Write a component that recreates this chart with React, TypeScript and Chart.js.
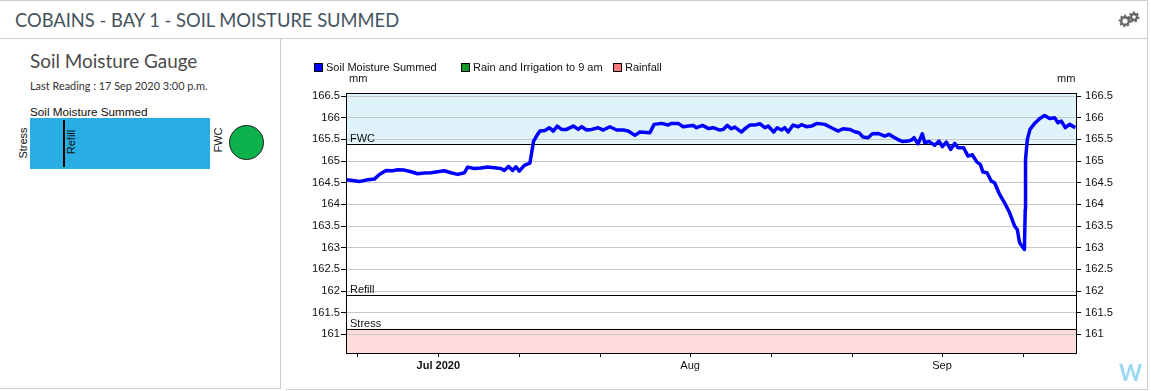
import React, { useEffect, useRef } from "react";
import { Chart, registerables } from "chart.js";

Chart.register(...registerables);

// x values are days counted from 1 Jul 2020
const moistureDays = [
  -11.35, -10.53, -9.71, -8.89, -7.87, -7.25, -6.43, -5.61, -5.0, -4.18, -3.36, -2.54, -1.72, -0.9, -0.08, 0.74, 1.56, 2.38, 3.2, 3.61, 4.43, 5.25, 6.07, 6.89, 7.71, 8.12, 8.66, 9.15, 9.56, 9.97, 10.58, 11.28, 11.49, 11.73, 12.22,
  12.51, 13.13, 13.66, 14.15, 14.64, 15.18, 15.79, 16.61, 17.23, 17.64, 18.25, 18.87, 19.69, 20.3, 21.12, 21.94, 22.76, 23.38, 24.2, 24.81, 26.04, 26.57, 27.48, 28.3, 28.7, 29.53, 30.14, 30.76, 31.37, 31.78, 32.52, 33.22, 33.83, 34.65,
  35.06, 35.55, 36.09, 36.5, 37.32, 37.73, 38.34, 38.96, 39.57, 40.19, 40.6, 41.29, 41.7, 42.24, 42.65, 43.06, 43.67, 44.29, 44.7, 45.31, 45.93, 46.62, 47.57, 48.39, 49.2, 49.82, 50.64, 51.26, 51.79, 52.28, 52.9, 53.43, 54.13, 54.95, 55.48, 56.18, 56.79,
  57.12, 57.82, 58.22, 58.55, 59.05, 59.58, 59.87, 60.4, 61.1, 61.63, 62.04, 62.53, 63.06, 63.56, 63.97, 64.66, 65.2, 65.73, 66.3, 66.71, 67.04, 67.53, 68.07, 68.47, 69.09, 69.7, 70.32, 70.94, 71.26, 71.55, 72.14, 72.24, 72.28, 72.5, 72.83, 73.4, 74.01, 74.63, 75.24, 75.86, 76.27, 76.68, 77.17, 77.7, 78.4,
];
const moistureValues = [
  164.568, 164.552, 164.529, 164.56, 164.583, 164.691, 164.783, 164.775, 164.799, 164.791, 164.752, 164.706, 164.722, 164.729, 164.752, 164.775, 164.729, 164.691, 164.729, 164.86, 164.829, 164.837, 164.86, 164.845, 164.829, 164.783, 164.876, 164.783, 164.868, 164.768, 164.899, 164.953, 165.191, 165.461, 165.615,
  165.692, 165.707, 165.769, 165.692, 165.807, 165.73, 165.73, 165.807, 165.73, 165.792, 165.715, 165.73, 165.769, 165.715, 165.792, 165.715, 165.715, 165.692, 165.592, 165.669, 165.653, 165.846, 165.869, 165.83, 165.869, 165.869, 165.792, 165.807, 165.822, 165.769, 165.822, 165.753, 165.769, 165.715,
  165.73, 165.822, 165.745, 165.784, 165.669, 165.745, 165.83, 165.83, 165.861, 165.769, 165.807, 165.669, 165.769, 165.715, 165.769, 165.669, 165.83, 165.792, 165.838, 165.792, 165.807, 165.869, 165.846, 165.769, 165.692, 165.745, 165.73, 165.676, 165.653, 165.553, 165.538, 165.63, 165.638, 165.576, 165.615, 165.538, 165.476,
  165.453, 165.461, 165.484, 165.538, 165.399, 165.63, 165.422, 165.453, 165.361, 165.461, 165.33, 165.438, 165.268, 165.407, 165.307, 165.307, 165.114, 165.145, 164.976, 164.922, 164.745, 164.729, 164.537, 164.498, 164.229, 164.036, 163.806, 163.498, 163.421, 163.113, 162.959, 163.883, 165.037, 165.499, 165.73, 165.869, 165.976, 166.053, 165.984, 166.0, 165.884, 165.923, 165.769, 165.846, 165.769,
];
const rainIrrigation: number[] = [];
const rainfall: number[] = [];

const xTickDays = [-10, 0, 10, 20, 31, 41, 51, 62, 72];
const xTickLabels = ["", "Jul 2020", "", "", "Aug", "", "", "Sep", ""];
const yTicks = [161, 161.5, 162, 162.5, 163, 163.5, 164, 164.5, 165, 165.5, 166, 166.5];

const thresholdNames = ["FWC", "Refill", "Stress"];
const thresholdValues = [165.4, 161.91, 161.13];

const legendNames = ["Soil Moisture Summed", "Rain and Irrigation to 9 am", "Rainfall"];
const legendColors = ["#0000ff", "#109a2a", "#ff7878"];

const CHART_FONT = "'Liberation Sans', Arial, sans-serif";
const UI_FONT = "Lato, 'Open Sans', sans-serif";

const bandsPlugin = {
  id: "bands",
  beforeDraw(chart: any) {
    const { ctx, chartArea: a, scales } = chart;
    const y = scales.y;
    ctx.save();
    ctx.fillStyle = "#e0f3fb";
    const fwc = y.getPixelForValue(thresholdValues[0]);
    ctx.fillRect(a.left, a.top, a.right - a.left, fwc - a.top);
    ctx.fillStyle = "#ffdcdc";
    const stress = y.getPixelForValue(thresholdValues[2]);
    ctx.fillRect(a.left, stress, a.right - a.left, a.bottom - stress);
    ctx.restore();
  },
  beforeDatasetsDraw(chart: any) {
    const { ctx, chartArea: a, scales } = chart;
    const y = scales.y;
    ctx.save();
    ctx.strokeStyle = "#000";
    ctx.lineWidth = 1;
    ctx.fillStyle = "#111";
    ctx.font = `11px ${CHART_FONT}`;
    ctx.textBaseline = "alphabetic";
    thresholdValues.forEach((v, i) => {
      const p = Math.round(y.getPixelForValue(v)) + 0.5;
      ctx.beginPath();
      ctx.moveTo(a.left, p);
      ctx.lineTo(a.right, p);
      ctx.stroke();
      ctx.fillText(thresholdNames[i], a.left + 4, p - 2.5);
    });
    ctx.restore();
  },
  afterDraw(chart: any) {
    const { ctx, chartArea: a } = chart;
    ctx.save();
    ctx.strokeStyle = "#000";
    ctx.lineWidth = 1;
    ctx.strokeRect(a.left + 0.5, a.top + 0.5, a.right - a.left, a.bottom - a.top);
    ctx.restore();
  },
};

const abs = (s: React.CSSProperties): React.CSSProperties => ({ position: "absolute", whiteSpace: "nowrap", ...s });

function Vertical({ text, x, y }: { text: string; x: number; y: number }) {
  return (
    <div style={abs({ left: x, top: y, transform: "translate(-50%,-50%) rotate(-90deg)", font: `11px ${CHART_FONT}`, color: "#111" })}>
      {text}
    </div>
  );
}

function Gear({ cx, cy, r }: { cx: number; cy: number; r: number }) {
  return (
    <>
      <circle cx={cx} cy={cy} r={r} fill="none" stroke="#666" strokeWidth={2.4} />
      <circle cx={cx} cy={cy} r={r + 1.6} fill="none" stroke="#666" strokeWidth={1.8} strokeDasharray="2 2" />
    </>
  );
}

export default function App() {
  const ref = useRef<HTMLCanvasElement>(null);

  useEffect(() => {
    const yAxis = (position: "left" | "right", width: number, padding: number, grid: boolean) => ({
      type: "linear",
      position,
      min: 160.57,
      max: 166.57,
      afterBuildTicks: (s: any) => {
        s.ticks = yTicks.map((value) => ({ value }));
      },
      afterFit: (s: any) => {
        s.width = width;
      },
      border: { display: false },
      grid: { drawOnChartArea: grid, color: "#c8c8c8", tickColor: "#000", tickLength: 5, lineWidth: 1 },
      ticks: {
        color: "#111",
        padding,
        font: { family: CHART_FONT, size: 11.2 },
        callback: (v: any) => String(v),
      },
    });

    const chart = new Chart(ref.current as HTMLCanvasElement, {
      type: "line",
      data: {
        datasets: [
          {
            label: legendNames[0],
            data: moistureDays.map((x, i) => ({ x, y: moistureValues[i] })),
            borderColor: legendColors[0],
            backgroundColor: legendColors[0],
            borderWidth: 3.5,
            borderJoinStyle: "round",
            pointRadius: 0,
            tension: 0,
          },
          { label: legendNames[1], data: rainIrrigation as any, borderColor: legendColors[1], backgroundColor: legendColors[1] },
          { label: legendNames[2], data: rainfall as any, borderColor: legendColors[2], backgroundColor: legendColors[2] },
        ],
      },
      plugins: [bandsPlugin],
      options: {
        animation: false,
        responsive: false,
        parsing: false,
        normalized: true,
        layout: { autoPadding: false, padding: { left: 285, right: 15, top: 93, bottom: 0 } },
        plugins: { legend: { display: false }, title: { display: false }, tooltip: { enabled: false } },
        scales: {
          x: {
            type: "linear",
            min: -11.36,
            max: 78.49,
            afterBuildTicks: (s: any) => {
              s.ticks = xTickDays.map((value) => ({ value }));
            },
            afterFit: (s: any) => {
              s.height = 38;
            },
            border: { display: false },
            grid: { drawOnChartArea: false, tickColor: "#000", tickLength: 4 },
            ticks: {
              color: "#111",
              padding: 2,
              maxRotation: 0,
              autoSkip: false,
              font: (c: any) => ({ family: CHART_FONT, size: 11, weight: c.tick && c.tick.value === 0 ? "bold" : "normal" }),
              callback: (v: any) => {
                const i = xTickDays.indexOf(v);
                return i >= 0 ? xTickLabels[i] : "";
              },
            },
          },
          y: yAxis("left", 61, 1, true),
          y1: yAxis("right", 60, 4, false),
        },
      } as any,
    } as any);
    return () => chart.destroy();
  }, []);

  const legendX = [314, 461, 613];
  const line = "#cccccc";

  return (
    <div style={{ position: "relative", width: 1151, height: 391, overflow: "hidden", background: "#fff" }}>
      <style>{`html,body{margin:0;padding:0;background:#fff}`}</style>

      {/* frame */}
      <div style={abs({ left: 0, top: 0, width: 1148, height: 1, background: line })} />
      <div style={abs({ left: 0, top: 38, width: 1148, height: 1, background: line })} />
      <div style={abs({ left: 1147, top: 0, width: 1, height: 390, background: line })} />
      <div style={abs({ left: 280, top: 38, width: 1, height: 351, background: line })} />
      <div style={abs({ left: 0, top: 388, width: 281, height: 1, background: line })} />
      <div style={abs({ left: 286, top: 389, width: 862, height: 1, background: line })} />

      {/* header */}
      <div style={abs({ left: 15, top: 9, font: `18.33px ${UI_FONT}`, color: "#44525e" })}>COBAINS - BAY 1 - SOIL MOISTURE SUMMED</div>
      <svg style={{ position: "absolute", left: 1115, top: 8, overflow: "visible" }} width={30} height={22}>
        <Gear cx={10} cy={13} r={3.8} />
        <Gear cx={19} cy={9} r={3} />
      </svg>

      {/* gauge panel */}
      <div style={abs({ left: 30, top: 49, font: `18.9px ${UI_FONT}`, color: "#4a4a4a" })}>Soil Moisture Gauge</div>
      <div style={abs({ left: 30, top: 79, font: `10.9px ${UI_FONT}`, color: "#333" })}>Last Reading : 17 Sep 2020 3:00 p.m.</div>
      <div style={abs({ left: 30, top: 105, font: `11.7px ${CHART_FONT}`, color: "#111" })}>Soil Moisture Summed</div>
      <div style={abs({ left: 30, top: 118, width: 180, height: 51, background: "#29aee4" })} />
      <div style={abs({ left: 63, top: 120, width: 2, height: 47, background: "#000" })} />
      <Vertical text="Refill" x={71} y={142} />
      <Vertical text="Stress" x={22.5} y={143} />
      <Vertical text="FWC" x={217.5} y={140} />
      <div style={abs({ left: 229, top: 125, width: 33, height: 33, borderRadius: "50%", background: "#0db14b", border: "1px solid #222" })} />

      {/* chart */}
      <canvas ref={ref} width={1151} height={391} style={{ position: "absolute", left: 0, top: 0, width: 1151, height: 391 }} />

      {/* legend and units */}
      {legendNames.map((name, i) => (
        <React.Fragment key={name}>
          <div style={abs({ left: legendX[i], top: 63, width: 7, height: 7, background: legendColors[i], border: "1px solid #000" })} />
          <div style={abs({ left: legendX[i] + 12, top: 61, font: `11px ${CHART_FONT}`, color: "#111" })}>{name}</div>
        </React.Fragment>
      ))}
      <div style={abs({ left: 349, top: 72, font: `11px ${CHART_FONT}`, color: "#111" })}>mm</div>
      <div style={abs({ left: 1057, top: 72, font: `11px ${CHART_FONT}`, color: "#111" })}>mm</div>

      {/* watermark */}
      <div style={abs({ left: 1119, top: 359, font: `bold 22px ${UI_FONT}`, color: "#9ad8f2" })}>W</div>
    </div>
  );
}
